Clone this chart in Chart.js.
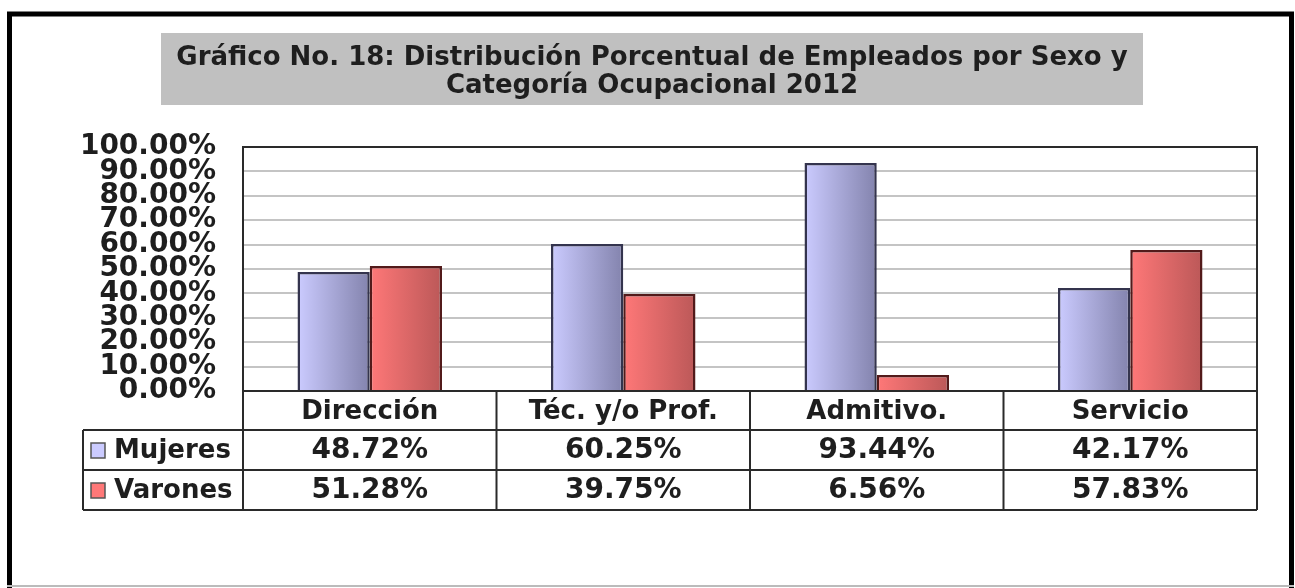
<!DOCTYPE html>
<html>
<head>
<meta charset="utf-8">
<script src="https://cdn.jsdelivr.net/npm/chart.js@4/dist/chart.umd.min.js"></script>
<style>
  html, body { margin: 0; padding: 0; background: #fff; }
  #wrap { width: 1295px; height: 588px; position: relative; }
</style>
</head>
<body>
<div id="wrap"><canvas id="empleadosChart"></canvas></div>
<script>
const categories = ['Dirección', 'Téc. y/o Prof.', 'Admitivo.', 'Servicio'];
const mujeres = [48.72, 60.25, 93.44, 42.17];
const varones = [51.28, 39.75, 6.56, 57.83];
const seriesNames = ['Mujeres', 'Varones'];
const titleLines = [
  'Gráfico No. 18: Distribución Porcentual de Empleados por Sexo y',
  'Categoría Ocupacional 2012'
];

const FONT = '"DejaVu Sans", Verdana, sans-serif';
const INK = '#1e1e1e';
const CAT_PCT = 0.57;

// light -> dark horizontal shading, like the old Excel bars
const SHADES = [
  { light: '#cbcbff', dark: '#8383ad', border: '#34344e' },
  { light: '#ff7878', dark: '#bb5858', border: '#521a1a' }
];

function pct(v) {
  return v.toFixed(2) + '%';
}

function barFill(context) {
  const chart = context.chart;
  const shade = SHADES[context.datasetIndex];
  const x = chart.scales && chart.scales.x;
  if (!chart.chartArea || !x || context.dataIndex === undefined) return shade.light;
  const catW = (chart.chartArea.right - chart.chartArea.left) / categories.length;
  const barW = catW * CAT_PCT / 2;
  const center = x.getPixelForValue(context.dataIndex);
  const left = center - barW + context.datasetIndex * barW;
  const g = chart.ctx.createLinearGradient(left, 0, left + barW, 0);
  g.addColorStop(0, shade.light);
  g.addColorStop(1, shade.dark);
  return g;
}

const framePlugin = {
  id: 'framePlugin',
  beforeDraw(chart) {
    const ctx = chart.ctx;
    ctx.save();
    ctx.fillStyle = '#fff';
    ctx.fillRect(0, 0, chart.width, chart.height);

    // outer frame
    ctx.strokeStyle = '#000';
    ctx.lineWidth = 5;
    ctx.beginPath();
    ctx.moveTo(9.5, 600);
    ctx.lineTo(9.5, 14);
    ctx.lineTo(1291.5, 14);
    ctx.lineTo(1291.5, 600);
    ctx.stroke();
    ctx.strokeStyle = '#bbb';
    ctx.lineWidth = 2;
    ctx.beginPath();
    ctx.moveTo(7, 586);
    ctx.lineTo(1294, 586);
    ctx.stroke();

    // title box
    ctx.fillStyle = '#c0c0c0';
    ctx.fillRect(161, 33, 982, 72);
    ctx.fillStyle = INK;
    ctx.font = 'bold 26px ' + FONT;
    ctx.textAlign = 'center';
    ctx.textBaseline = 'middle';
    ctx.fillText(titleLines[0], 652, 58);
    ctx.fillText(titleLines[1], 652, 86);
    ctx.restore();
  },
  afterDraw(chart) {
    const ctx = chart.ctx;
    const area = chart.chartArea;
    const x = chart.scales.x;
    const rowH = 40;
    const headTop = area.bottom;
    const row1 = headTop + 39;
    const tableBottom = row1 + rowH * 2;
    const legendLeft = 83;

    const edges = [area.left];
    for (let i = 0; i < categories.length - 1; i++) {
      edges.push((x.getPixelForValue(i) + x.getPixelForValue(i + 1)) / 2);
    }
    edges.push(area.right);

    ctx.save();
    ctx.strokeStyle = '#2a2a2a';
    ctx.lineWidth = 2;
    ctx.beginPath();
    // plot frame: top and right
    ctx.moveTo(area.left, area.top);
    ctx.lineTo(area.right, area.top);
    ctx.lineTo(area.right, area.bottom);
    // table rows
    for (let r = 0; r <= 2; r++) {
      const y = row1 + r * rowH;
      ctx.moveTo(legendLeft, y);
      ctx.lineTo(area.right, y);
    }
    // table columns
    edges.forEach(e => {
      ctx.moveTo(e, headTop);
      ctx.lineTo(e, tableBottom);
    });
    ctx.moveTo(legendLeft, row1);
    ctx.lineTo(legendLeft, tableBottom);
    ctx.stroke();

    // legend keys and values
    const series = [mujeres, varones];
    ctx.textBaseline = 'middle';
    series.forEach((vals, s) => {
      const cy = row1 + rowH * s + rowH / 2;
      ctx.fillStyle = SHADES[s].light;
      ctx.fillRect(91, cy - 7, 14, 15);
      ctx.strokeStyle = '#555';
      ctx.lineWidth = 1.5;
      ctx.strokeRect(91, cy - 7, 14, 15);
      ctx.fillStyle = INK;
      ctx.textAlign = 'left';
      ctx.font = 'bold 26px ' + FONT;
      ctx.fillText(seriesNames[s], 114, cy + 1);
      ctx.textAlign = 'center';
      ctx.font = 'bold 28px ' + FONT;
      vals.forEach((v, i) => {
        ctx.fillText(pct(v), x.getPixelForValue(i), cy + 1);
      });
    });
    ctx.restore();
  }
};

const canvas = document.getElementById('empleadosChart');
const ctx = canvas.getContext('2d');

new Chart(ctx, {
  type: 'bar',
  data: {
    labels: categories,
    datasets: [
      {
        label: seriesNames[0],
        data: mujeres,
        backgroundColor: barFill,
        borderColor: SHADES[0].border,
        borderWidth: 2.5,
        categoryPercentage: CAT_PCT,
        barPercentage: 1
      },
      {
        label: seriesNames[1],
        data: varones,
        backgroundColor: barFill,
        borderColor: SHADES[1].border,
        borderWidth: 2.5,
        categoryPercentage: CAT_PCT,
        barPercentage: 1
      }
    ]
  },
  options: {
    responsive: true,
    maintainAspectRatio: false,
    animation: false,
    layout: {
      padding: { top: 147, right: 38, bottom: 158, left: 0 }
    },
    plugins: {
      legend: { display: false },
      title: { display: false },
      tooltip: { enabled: false }
    },
    scales: {
      x: {
        grid: { display: false, drawTicks: false },
        border: { color: '#2a2a2a', width: 2 },
        ticks: {
          color: INK,
          padding: 6,
          font: { family: FONT, size: 26, weight: 'bold' }
        },
        afterFit(scale) { scale.height = 39; }
      },
      y: {
        min: 0,
        max: 100,
        grid: { color: '#c4c4c4', lineWidth: 2, drawTicks: false },
        border: { color: '#2a2a2a', width: 2 },
        ticks: {
          stepSize: 10,
          autoSkip: false,
          padding: 27,
          color: INK,
          font: { family: FONT, size: 28, weight: 'bold', lineHeight: 1 },
          callback: v => pct(v)
        },
        afterFit(scale) { scale.width = 243; }
      }
    }
  },
  plugins: [framePlugin]
});
</script>
</body>
</html>
